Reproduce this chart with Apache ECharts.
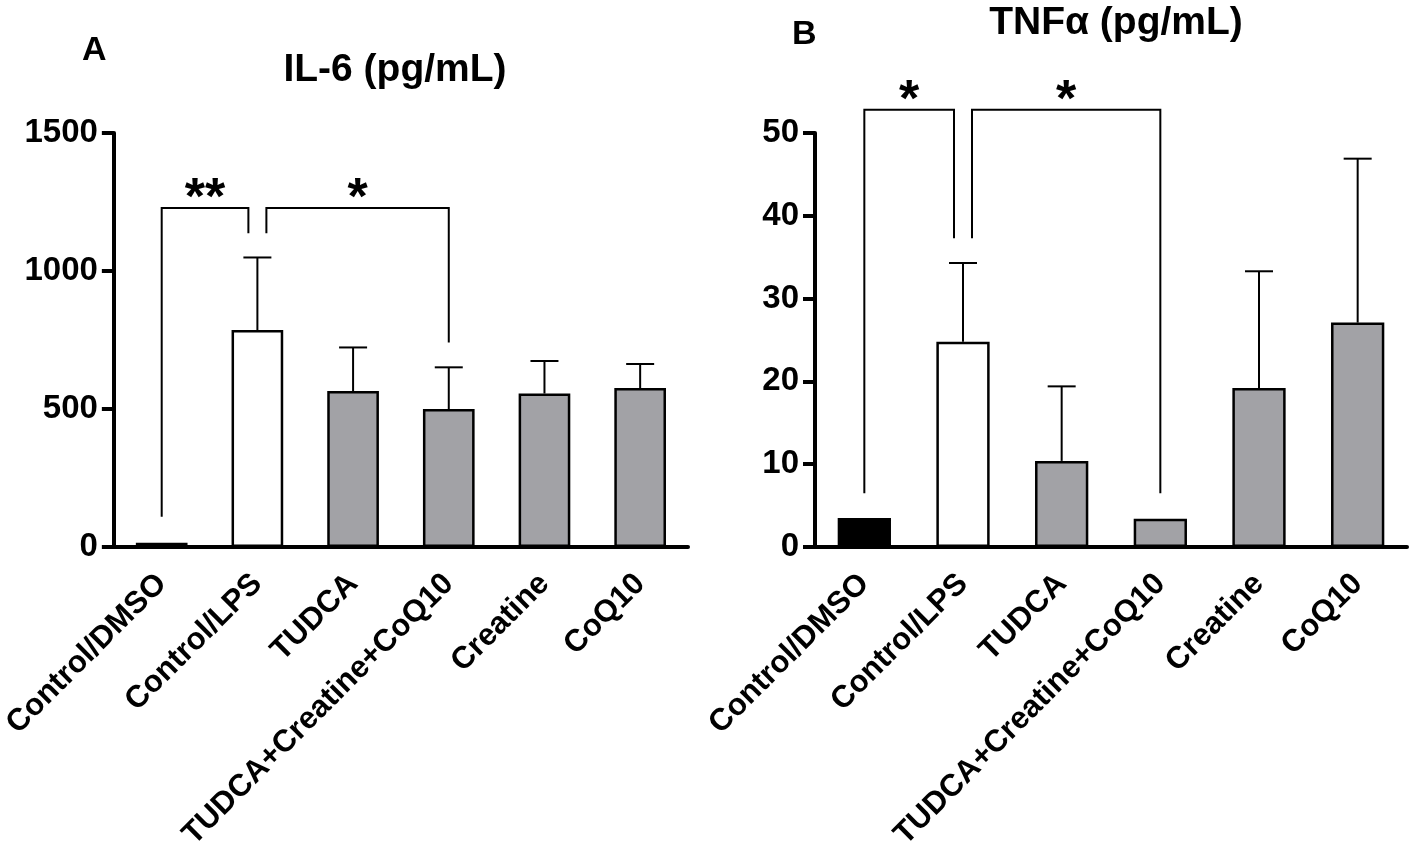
<!DOCTYPE html>
<html>
<head>
<meta charset="utf-8">
<script src="https://cdn.jsdelivr.net/npm/echarts@6/dist/echarts.min.js"></script>
<style>
  html, body { margin: 0; padding: 0; background: #fff; }
  #chart { width: 1418px; height: 855px; }
</style>
</head>
<body>
<div id="chart"></div>
<script>
// groups on the x axis (same for both panels)
const categories = ['Control/DMSO', 'Control/LPS', 'TUDCA', 'TUDCA+Creatine+CoQ10', 'Creatine', 'CoQ10'];

// panel A: IL-6 (pg/mL), mean and SD
const il6Mean = [15, 786, 565, 500, 556, 576];
const il6Sd = [0, 263, 158, 151, 118, 87];
// panel B: TNFa (pg/mL)
const tnfMean = [3.5, 24.8, 10.4, 3.4, 19.2, 27.1];
const tnfSd = [0, 9.5, 9.0, 0, 14.1, 19.8];

// axis ranges / tick steps
const il6Axis = [0, 1500, 500];
const tnfAxis = [0, 50, 10];

// significance brackets: [from group, to group, left leg end, right leg end, top, label]
const il6Brackets = [[0, 1, 110, 1137, 1228, '**'], [1, 3, 1137, 741, 1228, '*']];
const tnfBrackets = [[0, 1, 6.5, 37.3, 52.8, '*'], [1, 3, 37.3, 6.5, 52.8, '*']];

const barColors = ['#000000', '#ffffff', '#a2a2a6', '#a2a2a6', '#a2a2a6', '#a2a2a6'];

const chart = echarts.init(document.getElementById('chart'));

const FONT = '"Liberation Sans", Arial, sans-serif';
const PIVOT = 1; // group shared by both brackets, legs are nudged apart there

function xAxisFor(idx) {
  return {
    type: 'category',
    gridIndex: idx,
    data: categories,
    axisLine: { lineStyle: { color: '#000', width: 4 } },
    axisTick: { alignWithLabel: true, length: 14, lineStyle: { color: '#000', width: 4 } },
    axisLabel: {
      rotate: 45, margin: 32, color: '#000', interval: 0,
      fontFamily: FONT, fontWeight: 'bold', fontSize: 31
    }
  };
}

function yAxisFor(idx, range) {
  return {
    type: 'value',
    gridIndex: idx,
    min: range[0], max: range[1], interval: range[2],
    splitLine: { show: false },
    axisLine: { show: true, lineStyle: { color: '#000', width: 4 } },
    axisTick: { show: true, length: 12, lineStyle: { color: '#000', width: 4 } },
    axisLabel: {
      margin: 16, color: '#000',
      fontFamily: FONT, fontWeight: 'bold', fontSize: 33,
      formatter: v => String(v)
    }
  };
}

function barSeries(idx, values) {
  return {
    type: 'bar',
    xAxisIndex: idx, yAxisIndex: idx,
    barWidth: '54%',
    data: values.map((v, i) => ({
      value: v,
      itemStyle: { color: barColors[i], borderColor: '#000', borderWidth: 2.5 }
    })),
    z: 2
  };
}

function errorSeries(idx, mean, sd) {
  return {
    type: 'custom',
    xAxisIndex: idx, yAxisIndex: idx,
    data: mean.map((m, i) => [i, m, sd[i]]),
    z: 3,
    renderItem(params, api) {
      const sdv = api.value(2);
      if (!sdv) return;
      const x = api.value(0);
      const base = api.coord([x, api.value(1)]);
      const tip = api.coord([x, api.value(1) + sdv]);
      const half = 14;
      const style = { stroke: '#000', lineWidth: 2 };
      return {
        type: 'group',
        children: [
          { type: 'line', shape: { x1: base[0], y1: base[1], x2: tip[0], y2: tip[1] }, style },
          { type: 'line', shape: { x1: tip[0] - half, y1: tip[1], x2: tip[0] + half, y2: tip[1] }, style }
        ]
      };
    }
  };
}

function bracketSeries(idx, brackets) {
  return {
    type: 'custom',
    xAxisIndex: idx, yAxisIndex: idx,
    clip: false,
    data: brackets.map(b => b.slice(0, 5)),
    z: 4,
    renderItem(params, api) {
      const b = brackets[params.dataIndex];
      const gap = 9;
      const l = api.coord([b[0], b[2]]);
      const r = api.coord([b[1], b[3]]);
      const topY = api.coord([b[0], b[4]])[1];
      const lx = l[0] + (b[0] === PIVOT ? gap : 0);
      const rx = r[0] - (b[1] === PIVOT ? gap : 0);
      const style = { stroke: '#000', lineWidth: 2, fill: null };
      return {
        type: 'group',
        children: [
          {
            type: 'polyline',
            shape: { points: [[lx, l[1]], [lx, topY], [rx, topY], [rx, r[1]]] },
            style
          },
          {
            type: 'text',
            x: (lx + rx) / 2, y: topY + 18,
            style: {
              text: b[5], fill: '#000',
              font: 'bold 52px ' + FONT,
              align: 'center', verticalAlign: 'bottom'
            }
          }
        ]
      };
    }
  };
}

const titleStyle = size => ({ fontFamily: FONT, fontWeight: 'bold', fontSize: size, color: '#000' });

chart.setOption({
  animation: false,
  backgroundColor: '#fff',
  title: [
    { text: 'A', left: 77, top: 29, textStyle: titleStyle(34) },
    { text: 'IL-6 (pg/mL)', left: 390, top: 46, textAlign: 'center', textStyle: titleStyle(39) },
    { text: 'B', left: 787, top: 13, textStyle: titleStyle(34) },
    { text: 'TNFα (pg/mL)', left: 1111, top: -1, textAlign: 'center', textStyle: titleStyle(39) }
  ],
  grid: [
    { left: 100, top: 133, width: 588, height: 414 },
    { left: 815, top: 133, width: 592, height: 414 }
  ],
  xAxis: [xAxisFor(0), xAxisFor(1)],
  yAxis: [yAxisFor(0, il6Axis), yAxisFor(1, tnfAxis)],
  series: [
    barSeries(0, il6Mean),
    errorSeries(0, il6Mean, il6Sd),
    bracketSeries(0, il6Brackets),
    barSeries(1, tnfMean),
    errorSeries(1, tnfMean, tnfSd),
    bracketSeries(1, tnfBrackets)
  ]
});
</script>
</body>
</html>
